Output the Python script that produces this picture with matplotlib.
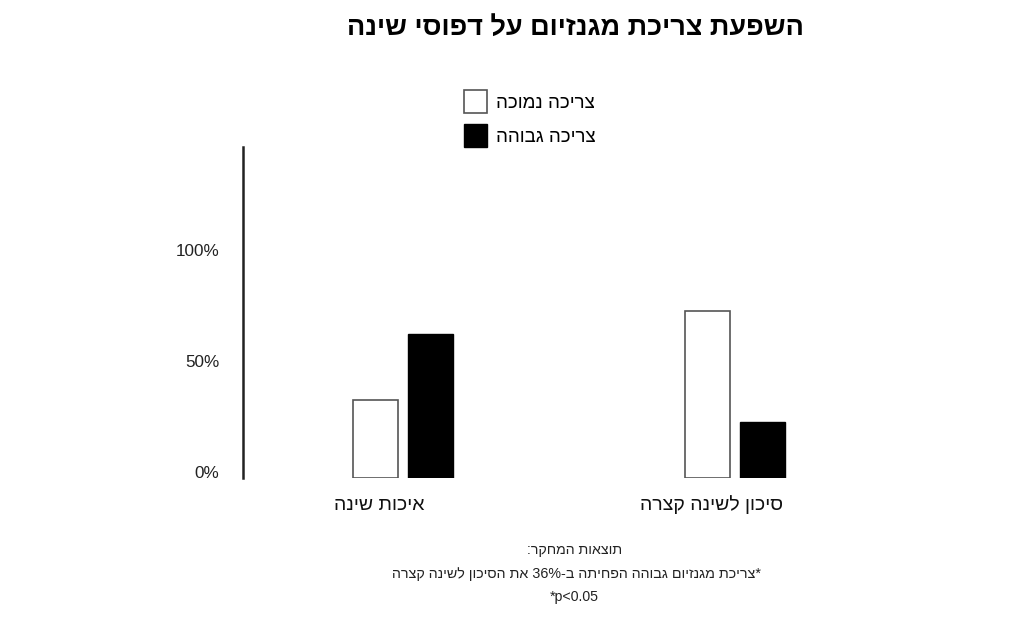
#!/usr/bin/env python3
"""
Magnesium intake vs. sleep patterns - grouped bar chart (Hebrew labels).
matplotlib has no bidi support, so Hebrew strings are flipped to visual order.
"""

import re
import matplotlib
matplotlib.use("Agg")
import matplotlib.pyplot as plt
import matplotlib.transforms as mtransforms
from matplotlib.patches import Patch
import numpy as np

# ---------------- Data ----------------
title = "השפעת צריכת מגנזיום על דפוסי שינה"
categories = ["איכות שינה", "סיכון לשינה קצרה"]
series_names = ["צריכה נמוכה", "צריכה גבוהה"]
low_values = [35, 75]
high_values = [65, 25]
y_ticks = [0, 50, 100]
y_tick_labels = ["0%", "50%", "100%"]
notes = [
    "תוצאות המחקר:",
    "*צריכת מגנזיום גבוהה הפחיתה ב-36% את הסיכון לשינה קצרה",
]
note_p = "*p<0.05"


def visual(s):
    """Turn a logical RTL string into left-to-right visual order."""
    r = s[::-1]
    # numbers keep their left-to-right order
    return re.sub(r"[0-9.%]+", lambda m: m.group(0)[::-1], r)


plt.rcParams["font.family"] = ["Liberation Sans", "DejaVu Sans"]

W, H = 1024, 634
fig = plt.figure(figsize=(W / 100, H / 100), dpi=100)
ax = fig.add_axes([243 / W, 1 - 478 / H, (900 - 243) / W, (478 - 147) / H])

x = np.arange(len(categories))
bw = 0.136
off = 0.084
ax.bar(x - off, low_values, bw, facecolor="white", edgecolor="#555555",
       linewidth=1.2, label=visual(series_names[0]))
ax.bar(x + off, high_values, bw, facecolor="black", edgecolor="black",
       linewidth=1.0, label=visual(series_names[1]))

ax.set_xlim(-0.482, 1.497)
ax.set_ylim(0, 149)

for side in ["top", "right", "bottom"]:
    ax.spines[side].set_visible(False)
ax.spines["left"].set_linewidth(1.8)
ax.spines["left"].set_color("#222222")

ax.set_xticks([])
ax.set_yticks(y_ticks)
ax.set_yticklabels(y_tick_labels, fontsize=12.3, color="#222222")
ax.tick_params(axis="y", length=0, pad=17)
shift = mtransforms.ScaledTranslation(0, 6 / 100, fig.dpi_scale_trans)
for lbl in ax.get_yticklabels():
    lbl.set_transform(lbl.get_transform() + shift)

# category labels under each group
lab_tr = mtransforms.blended_transform_factory(ax.transData, ax.transAxes)
for xi, cat in zip(x, categories):
    ax.text(xi - 0.072, -27 / (478 - 147), visual(cat), transform=lab_tr,
            ha="center", va="center", fontsize=14, color="#111111")

# title
fig.text(575 / W, 1 - 28 / H, visual(title), ha="center", va="center",
         fontsize=19.5, fontweight="bold", color="black")

# legend
handles = [
    Patch(facecolor="white", edgecolor="#555555", linewidth=1.2),
    Patch(facecolor="black", edgecolor="black"),
]
fig.legend(handles, [visual(s) for s in series_names],
           loc="upper left", bbox_to_anchor=(464 / W, 1 - 90 / H),
           frameon=False, fontsize=13.5, handlelength=1.25, handleheight=1.5,
           handletextpad=0.45, labelspacing=0.6, borderpad=0, borderaxespad=0)

# footnotes
fig.text(575 / W, 1 - 550 / H, visual(notes[0]), ha="center", va="center",
         fontsize=10.2, color="#222222")
fig.text(576 / W, 1 - 574 / H, visual(notes[1]), ha="center", va="center",
         fontsize=10.3, color="#222222")
fig.text(574 / W, 1 - 597 / H, note_p, ha="center", va="center",
         fontsize=10.2, color="#222222")

fig.savefig("out.png", dpi=100)
